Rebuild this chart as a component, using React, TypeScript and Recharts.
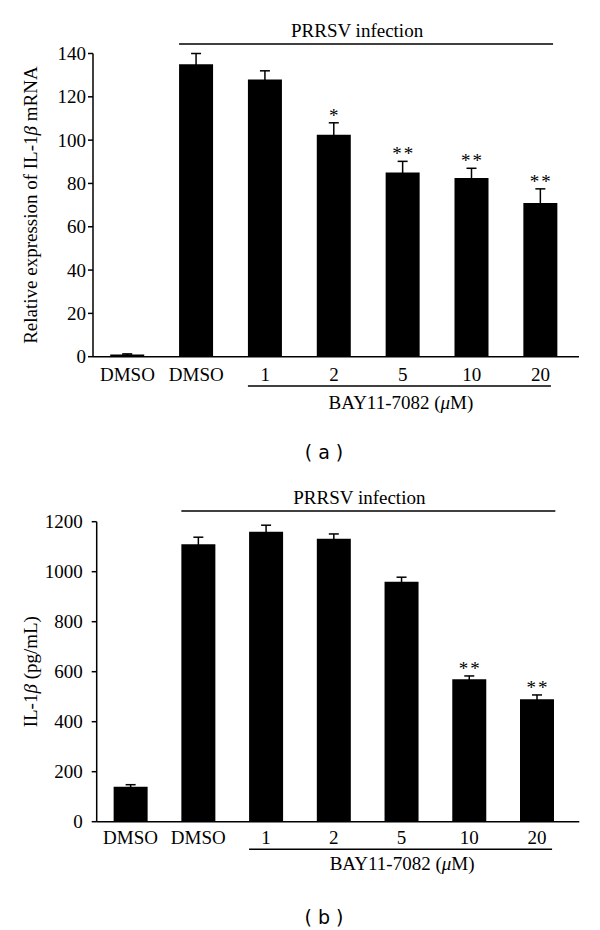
import React from 'react';
import { BarChart, Bar, XAxis, YAxis, ErrorBar, LabelList, Label } from 'recharts';

const groups = ['DMSO', 'DMSO', '1', '2', '5', '10', '20'];

// (a) relative IL-1β mRNA
const mrnaValues = [1, 135, 128, 102.5, 85, 82.5, 71];
const mrnaErrors = [0.3, 5, 4, 5.5, 5.2, 4.5, 6.5];
const mrnaStars = ['', '', '', '*', '**', '**', '**'];
const mrnaTicks = [0, 20, 40, 60, 80, 100, 120, 140];

// (b) IL-1β protein, pg/mL
const proteinValues = [140, 1110, 1160, 1132, 960, 570, 490];
const proteinErrors = [8, 28, 26, 19, 18, 13, 17];
const proteinStars = ['', '', '', '', '', '**', '**'];
const proteinTicks = [0, 200, 400, 600, 800, 1000, 1200];

const infectedFrom = 1; // first bar under "PRRSV infection"
const drugFrom = 2; // first bar under "BAY11-7082"

const serif = "'Liberation Serif', 'Times New Roman', serif";
const gapFrac = 0.25;

type PanelProps = {
  values: number[];
  errors: number[];
  stars: string[];
  ticks: number[];
  title: React.ReactNode;
  top: number;
  height: number;
  margin: { top: number; right: number; bottom: number; left: number };
  padRight: number;
  yTickMargin: number;
  topGap: number;
  bracketGap: number;
  bayGap: number;
  tickDy: number;
};

function Panel(p: PanelProps) {
  const data = groups.map((g, i) => ({ id: String(i), group: g, value: p.values[i], err: p.errors[i] }));
  const last = groups.length - 1;
  const yMax = p.ticks[p.ticks.length - 1];

  const annot = (props: any) => {
    const vb = props.viewBox || props;
    const x = props.x ?? vb.x;
    const y = props.y ?? vb.y;
    const w = props.width ?? vb.width;
    const h = props.height ?? vb.height;
    const index = props.index;
    const value = data[index].value;
    const bottom = y + h;
    const perUnit = h / value;
    const band = w / (1 - 2 * gapFrac);
    const out: React.ReactNode[] = [];

    if (index === infectedFrom) {
      const plotTop = bottom - yMax * perUnit;
      const lineY = plotTop - p.topGap;
      const x2 = x + (last - infectedFrom) * band + w;
      out.push(<line key="top" x1={x} x2={x2} y1={lineY} y2={lineY} stroke="#000" strokeWidth={1.5} />);
      out.push(
        <text key="inf" x={(x + x2) / 2 - 9} y={lineY - 7} textAnchor="middle" fontFamily={serif} fontSize={19} fill="#000">
          PRRSV infection
        </text>
      );
    }
    if (index === drugFrom) {
      const x2 = x + (last - drugFrom) * band + w - 3;
      const by = bottom + p.bracketGap;
      out.push(<line key="bracket" x1={x} x2={x2} y1={by} y2={by} stroke="#000" strokeWidth={1.5} />);
      out.push(
        <text key="bay" x={(x + x2 + 3) / 2} y={bottom + p.bayGap} textAnchor="middle" fontFamily={serif} fontSize={19} fill="#000">
          BAY11-7082 (<tspan fontStyle="italic">μ</tspan>M)
        </text>
      );
    }
    if (p.stars[index]) {
      const errTop = bottom - (value + data[index].err) * perUnit;
      out.push(
        <text key="star" x={x + w / 2 + 1} y={errTop - 1} textAnchor="middle" fontFamily={serif} fontSize={19} letterSpacing={2} fill="#000">
          {p.stars[index]}
        </text>
      );
    }
    return <g>{out}</g>;
  };

  const xTick = (props: any) => (
    <text x={props.x} y={props.y} dy={p.tickDy} textAnchor="middle" fontFamily={serif} fontSize={19} fill="#000">
      {groups[props.index]}
    </text>
  );

  const yTick = (props: any) => (
    <text x={props.x} y={props.y} dy="0.34em" textAnchor="end" fontFamily={serif} fontSize={19} fill="#000">
      {props.payload.value}
    </text>
  );

  const yTitle = (props: any) => {
    const vb = props.viewBox;
    const cy = vb.y + vb.height / 2;
    const bx = 37.5;
    return (
      <text x={bx} y={cy} transform={`rotate(-90 ${bx} ${cy})`} textAnchor="middle" fontFamily={serif} fontSize={19} fill="#000">
        {p.title}
      </text>
    );
  };

  return (
    <div style={{ position: 'absolute', left: 0, top: p.top }}>
      <BarChart width={600} height={p.height} data={data} margin={p.margin} barCategoryGap={`${gapFrac * 100}%`}>
        <XAxis
          dataKey="id"
          type="category"
          axisLine={{ stroke: '#000', strokeWidth: 1.5 }}
          tickLine={false}
          tickSize={0}
          tickMargin={0}
          height={30}
          padding={{ left: 0, right: p.padRight }}
          tick={xTick}
          interval={0}
        />
        <YAxis
          width={60}
          domain={[0, yMax]}
          ticks={p.ticks}
          interval={0}
          axisLine={{ stroke: '#000', strokeWidth: 1.5 }}
          tickLine={{ stroke: '#000', strokeWidth: 1.5 }}
          tickSize={5}
          tickMargin={p.yTickMargin}
          tick={yTick}
        >
          <Label content={yTitle} />
        </YAxis>
        <Bar dataKey="value" fill="#000" isAnimationActive={false}>
          <ErrorBar dataKey="err" direction="y" width={5} stroke="#000" strokeWidth={1.5} isAnimationActive={false} />
          <LabelList dataKey="value" content={annot} />
        </Bar>
      </BarChart>
    </div>
  );
}

const caption: React.CSSProperties = {
  position: 'absolute',
  left: 324,
  transform: 'translateX(-50%)',
  fontFamily: "'DejaVu Sans', sans-serif",
  fontSize: 19,
  lineHeight: '20px',
  color: '#000',
  whiteSpace: 'pre',
};

export default function App() {
  return (
    <div style={{ position: 'absolute', left: 0, top: 0, width: 600, height: 930, background: '#fff' }}>
      <Panel
        values={mrnaValues}
        errors={mrnaErrors}
        stars={mrnaStars}
        ticks={mrnaTicks}
        title={
          <>
            Relative expression of IL-1<tspan fontStyle="italic">β</tspan> mRNA
          </>
        }
        top={0}
        height={420}
        margin={{ top: 53.5, right: 21, bottom: 33.3, left: 33 }}
        padRight={4}
        yTickMargin={2}
        topGap={9.5}
        bracketGap={29.3}
        bayGap={52.6}
        tickDy={24}
      />
      <div style={{ ...caption, top: 441.7 }}>( a )</div>
      <Panel
        values={proteinValues}
        errors={proteinErrors}
        stars={proteinStars}
        ticks={proteinTicks}
        title={
          <>
            IL-1<tspan fontStyle="italic">β</tspan> (pg/mL)
          </>
        }
        top={460}
        height={440}
        margin={{ top: 61.7, right: 20.7, bottom: 48.3, left: 36.7 }}
        padRight={8.5}
        yTickMargin={9}
        topGap={10.7}
        bracketGap={27.6}
        bayGap={48.3}
        tickDy={22}
      />
      <div style={{ ...caption, top: 906.7 }}>( b )</div>
    </div>
  );
}
